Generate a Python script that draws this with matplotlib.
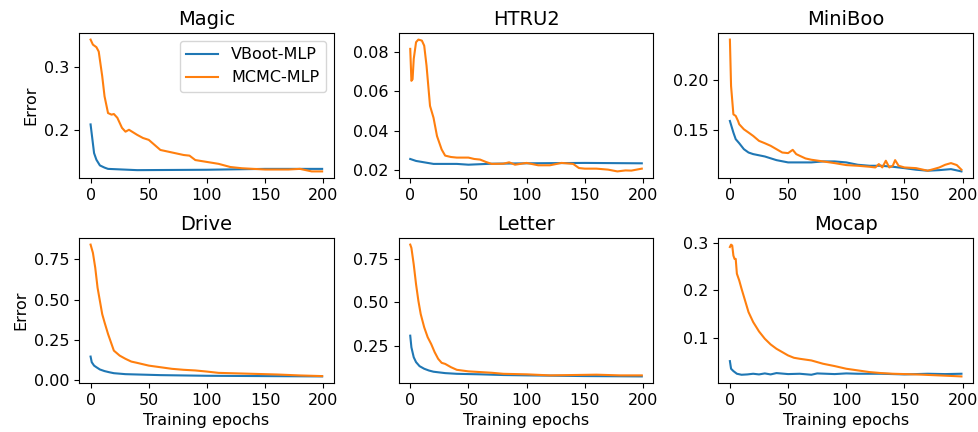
import matplotlib
matplotlib.use("Agg")
import matplotlib.pyplot as plt

# Magic
magic_ep_vb = [0, 3, 5, 8, 12, 15, 20, 40, 100, 150, 199]
magic_vb = [0.2095, 0.164, 0.1535, 0.1445, 0.141, 0.139, 0.1386, 0.137, 0.1376, 0.139, 0.139]
magic_ep_mc = [0, 2, 5, 7, 10, 12, 15, 18, 20, 23, 27, 30, 33, 40, 45, 50, 55, 60, 70, 80, 85,
               90, 100, 110, 120, 130, 140, 150, 160, 170, 180, 190, 199]
magic_mc = [0.344, 0.336, 0.332, 0.325, 0.286, 0.254, 0.2275, 0.225, 0.226, 0.220, 0.204, 0.198,
            0.201, 0.193, 0.188, 0.185, 0.177, 0.169, 0.165, 0.161, 0.160, 0.153, 0.150, 0.147,
            0.142, 0.140, 0.139, 0.138, 0.138, 0.138, 0.139, 0.135, 0.135]

# HTRU2
htru_ep_vb = [0, 5, 10, 15, 20, 40, 50, 70, 100, 150, 199]
htru_vb = [0.0256, 0.0246, 0.0241, 0.0236, 0.0231, 0.0231, 0.0227, 0.0232, 0.0234, 0.0236, 0.0234]
htru_ep_mc = [0, 1, 2, 3, 5, 7, 10, 12, 14, 17, 20, 23, 27, 30, 35, 40, 50, 55, 60, 65, 70, 80,
              85, 90, 100, 110, 120, 130, 140, 145, 150, 160, 170, 178, 185, 190, 199]
htru_mc = [0.0814, 0.0652, 0.066, 0.0763, 0.0848, 0.0861, 0.0856, 0.083, 0.0729, 0.0525, 0.0465,
           0.0372, 0.0304, 0.0273, 0.0266, 0.0263, 0.0263, 0.0256, 0.0253, 0.0241, 0.0231, 0.0232,
           0.0239, 0.0227, 0.0236, 0.0224, 0.0224, 0.0236, 0.0231, 0.021, 0.0207, 0.0207, 0.0202,
           0.0193, 0.0198, 0.0197, 0.0207]

# MiniBoo
mini_ep_vb = [0, 3, 5, 8, 12, 16, 20, 30, 40, 50, 60, 70, 80, 90, 100, 110, 120, 130, 140, 150,
              160, 170, 180, 190, 199]
mini_vb = [0.1587, 0.147, 0.1403, 0.1362, 0.1302, 0.1268, 0.1252, 0.1228, 0.1191, 0.1168, 0.1168,
           0.1168, 0.1178, 0.1178, 0.1168, 0.1144, 0.1134, 0.1134, 0.1124, 0.111, 0.1094, 0.1084,
           0.109, 0.11, 0.1077]
mini_ep_mc = [0, 1, 3, 5, 7, 8, 12, 16, 20, 25, 30, 35, 40, 45, 50, 54, 57, 60, 65, 70, 80, 90,
              100, 110, 120, 125, 128, 131, 134, 137, 140, 142, 145, 150, 160, 170, 175, 180, 185,
              190, 195, 199]
mini_mc = [0.241, 0.194, 0.1654, 0.1638, 0.1587, 0.1554, 0.1503, 0.147, 0.1436, 0.1386, 0.1362,
           0.1336, 0.1302, 0.1268, 0.1262, 0.1295, 0.1252, 0.1235, 0.1208, 0.1195, 0.1178, 0.1161,
           0.1141, 0.1134, 0.1124, 0.1117, 0.1151, 0.1117, 0.1185, 0.1117, 0.1134, 0.1191, 0.1134,
           0.1117, 0.111, 0.1084, 0.11, 0.1117, 0.1144, 0.1161, 0.1141, 0.1094]

# Drive
drive_ep_vb = [0, 1, 3, 5, 8, 12, 16, 20, 30, 40, 60, 100, 150, 199]
drive_vb = [0.148, 0.113, 0.092, 0.082, 0.068, 0.058, 0.051, 0.045, 0.039, 0.037, 0.033, 0.029,
            0.027, 0.025]
drive_ep_mc = [0, 2, 4, 6, 8, 10, 12, 15, 18, 20, 25, 30, 35, 40, 50, 60, 70, 80, 90, 100, 110,
               120, 140, 160, 180, 199]
drive_mc = [0.842, 0.791, 0.699, 0.575, 0.493, 0.411, 0.36, 0.288, 0.226, 0.185, 0.154, 0.134,
            0.117, 0.109, 0.092, 0.082, 0.072, 0.066, 0.062, 0.055, 0.047, 0.045, 0.041, 0.037,
            0.031, 0.027]

# Letter
letter_ep_vb = [0, 1, 3, 5, 8, 12, 16, 20, 30, 40, 60, 80, 100, 150, 199]
letter_vb = [0.307, 0.24, 0.183, 0.155, 0.132, 0.117, 0.107, 0.1, 0.092, 0.088, 0.085, 0.081,
             0.079, 0.075, 0.073]
letter_ep_mc = [0, 1, 3, 5, 7, 9, 12, 15, 18, 21, 24, 27, 30, 35, 40, 50, 60, 70, 80, 100, 120,
                140, 160, 180, 199]
letter_mc = [0.830, 0.811, 0.716, 0.602, 0.507, 0.431, 0.355, 0.298, 0.259, 0.212, 0.174, 0.151,
             0.145, 0.126, 0.111, 0.102, 0.098, 0.094, 0.088, 0.085, 0.079, 0.081, 0.083, 0.079,
             0.079]

# Mocap
mocap_ep_vb = [0, 1, 3, 6, 10, 15, 20, 25, 30, 35, 40, 50, 60, 70, 75, 90, 100, 110, 130, 150,
               170, 185, 199]
mocap_vb = [0.0517, 0.0357, 0.0308, 0.0252, 0.0231, 0.0238, 0.0252, 0.0238, 0.0259, 0.0238,
            0.0266, 0.0245, 0.0252, 0.0231, 0.0259, 0.0245, 0.0259, 0.0252, 0.0252, 0.0238,
            0.0252, 0.0245, 0.0252]
mocap_ep_mc = [0, 1, 2, 3, 4, 5, 6, 8, 10, 13, 16, 20, 25, 30, 35, 40, 45, 50, 55, 60, 70, 80,
               90, 100, 110, 120, 130, 140, 160, 180, 199]
mocap_mc = [0.291, 0.296, 0.294, 0.273, 0.266, 0.266, 0.235, 0.221, 0.2035, 0.179, 0.1545,
            0.1336, 0.114, 0.0986, 0.0867, 0.0776, 0.0706, 0.0636, 0.0587, 0.0566, 0.0531,
            0.0462, 0.0413, 0.0357, 0.0322, 0.0287, 0.0266, 0.0252, 0.0238, 0.0217, 0.0196]

titles = ["Magic", "HTRU2", "MiniBoo", "Drive", "Letter", "Mocap"]
yticks = [[0.2, 0.3], [0.02, 0.04, 0.06, 0.08], [0.15, 0.20],
          [0.0, 0.25, 0.5, 0.75], [0.25, 0.5, 0.75], [0.1, 0.2, 0.3]]
ytick_labels = [["0.2", "0.3"], ["0.02", "0.04", "0.06", "0.08"], ["0.15", "0.20"],
                ["0.00", "0.25", "0.50", "0.75"], ["0.25", "0.50", "0.75"], ["0.1", "0.2", "0.3"]]

panels = [
    (magic_ep_vb, magic_vb, magic_ep_mc, magic_mc),
    (htru_ep_vb, htru_vb, htru_ep_mc, htru_mc),
    (mini_ep_vb, mini_vb, mini_ep_mc, mini_mc),
    (drive_ep_vb, drive_vb, drive_ep_mc, drive_mc),
    (letter_ep_vb, letter_vb, letter_ep_mc, letter_mc),
    (mocap_ep_vb, mocap_vb, mocap_ep_mc, mocap_mc),
]

fig, axes = plt.subplots(2, 3, figsize=(9.79, 4.32), dpi=100)
fig.subplots_adjust(left=0.0807, right=0.9939, top=0.9236, bottom=0.1134,
                    wspace=0.255, hspace=0.414)

for i, ax in enumerate(axes.flat):
    ev, vb, em, mc = panels[i]
    ax.plot(ev, vb, color="#1f77b4", lw=1.5, label="VBoot-MLP")
    ax.plot(em, mc, color="#ff7f0e", lw=1.5, label="MCMC-MLP")
    ax.set_title(titles[i], fontsize=14)
    ax.set_xticks([0, 50, 100, 150, 200])
    ax.set_yticks(yticks[i])
    ax.set_yticklabels(ytick_labels[i])
    ax.tick_params(labelsize=11.5)
    if i % 3 == 0:
        ax.set_ylabel("Error", fontsize=11.5)
    if i >= 3:
        ax.set_xlabel("Training epochs", fontsize=11.5)

axes[0, 0].legend(loc="upper right", fontsize=11.5)

fig.savefig("out.png", dpi=100)
